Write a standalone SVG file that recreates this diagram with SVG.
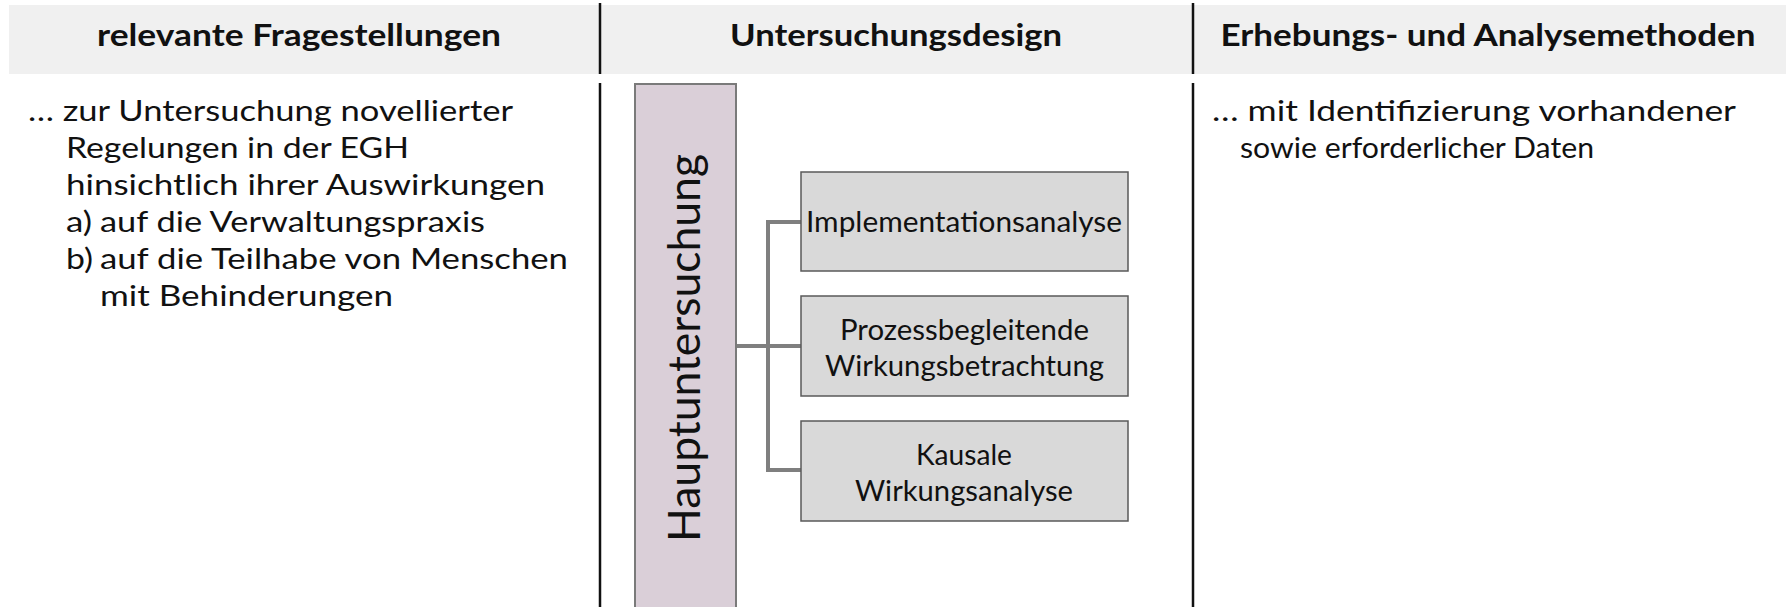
<svg xmlns="http://www.w3.org/2000/svg" width="1786" height="607" viewBox="0 0 1786 607">
<style>
.hdr{font-family:Lato,"Liberation Sans",sans-serif;font-weight:bold;font-size:30px;fill:#111;text-anchor:middle}
.body{font-family:Lato,"Liberation Sans",sans-serif;font-size:29px;fill:#111}
.box{fill:#d9d9d9;stroke:#595959;stroke-width:1.5}
.btxt{font-family:Lato,"Liberation Sans",sans-serif;font-size:28.5px;fill:#111;text-anchor:middle}
.div{stroke:#111;stroke-width:2.5;fill:none}
.con{stroke:#7f7f7f;stroke-width:4;fill:none;stroke-linejoin:miter}
</style>
<rect width="1786" height="607" fill="#ffffff"/>
<g id="header">
<rect x="9" y="5" width="1777" height="69" fill="#f0f0f0"/>
<text class="hdr" x="299" y="46" textLength="404" lengthAdjust="spacingAndGlyphs">relevante Fragestellungen</text>
<text class="hdr" x="896" y="46" textLength="332" lengthAdjust="spacingAndGlyphs">Untersuchungsdesign</text>
<text class="hdr" x="1488" y="46" textLength="535" lengthAdjust="spacingAndGlyphs">Erhebungs- und Analysemethoden</text>
</g>
<g id="dividers">
<line class="div" x1="600" y1="3" x2="600" y2="74"/>
<line class="div" x1="600" y1="83" x2="600" y2="607"/>
<line class="div" x1="1193" y1="3" x2="1193" y2="74"/>
<line class="div" x1="1193" y1="83" x2="1193" y2="607"/>
</g>
<g id="fragestellungen">
<text class="body" x="28" y="121" textLength="485" lengthAdjust="spacingAndGlyphs">… zur Untersuchung novellierter</text>
<text class="body" x="66" y="158" textLength="343" lengthAdjust="spacingAndGlyphs">Regelungen in der EGH</text>
<text class="body" x="66" y="195" textLength="479" lengthAdjust="spacingAndGlyphs">hinsichtlich ihrer Auswirkungen</text>
<text class="body" x="66" y="232" textLength="26" lengthAdjust="spacingAndGlyphs">a)</text>
<text class="body" x="100" y="232" textLength="385" lengthAdjust="spacingAndGlyphs">auf die Verwaltungspraxis</text>
<text class="body" x="66" y="269" textLength="27" lengthAdjust="spacingAndGlyphs">b)</text>
<text class="body" x="100" y="269" textLength="468" lengthAdjust="spacingAndGlyphs">auf die Teilhabe von Menschen</text>
<text class="body" x="100" y="306" textLength="293" lengthAdjust="spacingAndGlyphs">mit Behinderungen</text>
</g>
<g id="methoden">
<text class="body" x="1212" y="121" textLength="524" lengthAdjust="spacingAndGlyphs">… mit Identifizierung vorhandener</text>
<text class="body" x="1240" y="158" textLength="354" lengthAdjust="spacingAndGlyphs">sowie erforderlicher Daten</text>
</g>
<g id="connectors">
<path class="con" d="M736 346 H801"/>
<path class="con" d="M801 222 H768 V470 H801"/>
</g>
<g id="hauptuntersuchung">
<rect x="635" y="84" width="101" height="530" fill="#dacfd8" stroke="#7a7a7a" stroke-width="2"/>
<text x="700" y="348" transform="rotate(-90 700 348)" font-family="Lato,'Liberation Sans',sans-serif" font-size="44" fill="#111" text-anchor="middle" textLength="388" lengthAdjust="spacingAndGlyphs">Hauptuntersuchung</text>
</g>
<g id="implementationsanalyse">
<rect class="box" x="801" y="172" width="327" height="99"/>
<text class="btxt" x="964" y="232" textLength="316" lengthAdjust="spacingAndGlyphs">Implementationsanalyse</text>
</g>
<g id="wirkungsbetrachtung">
<rect class="box" x="801" y="296" width="327" height="100"/>
<text class="btxt" x="964.5" y="340" textLength="249" lengthAdjust="spacingAndGlyphs">Prozessbegleitende</text>
<text class="btxt" x="964.5" y="376" textLength="279" lengthAdjust="spacingAndGlyphs">Wirkungsbetrachtung</text>
</g>
<g id="wirkungsanalyse">
<rect class="box" x="801" y="421" width="327" height="100"/>
<text class="btxt" x="964" y="465" textLength="96" lengthAdjust="spacingAndGlyphs">Kausale</text>
<text class="btxt" x="964" y="501" textLength="218" lengthAdjust="spacingAndGlyphs">Wirkungsanalyse</text>
</g>
</svg>
